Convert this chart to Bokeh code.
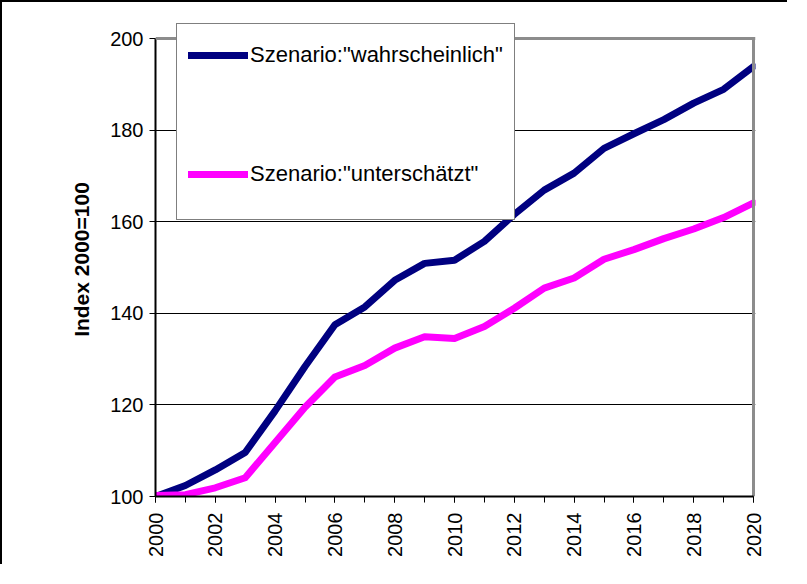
import math
from bokeh.plotting import figure
from bokeh.models import Range1d, FixedTicker, Legend, LegendItem, Span
from bokeh.embed import file_html
from bokeh.resources import INLINE

years = list(range(2000, 2021))
wahrscheinlich = [100.0, 102.4, 105.8, 109.6, 118.7, 128.4, 137.5, 141.4, 147.2, 150.9, 151.6,
                  155.7, 161.6, 166.9, 170.6, 176.0, 179.2, 182.3, 185.9, 188.9, 193.9]
unterschaetzt = [100.2, 100.4, 101.9, 104.1, 111.8, 119.5, 126.1, 128.6, 132.4, 134.9, 134.5,
                 137.1, 141.1, 145.5, 147.7, 151.8, 153.9, 156.3, 158.4, 160.9, 164.1]
series_labels = ['Szenario:"wahrscheinlich"', 'Szenario:"unterschätzt"']
y_ticks = [100, 120, 140, 160, 180, 200]
x_label_ticks = list(range(2000, 2021, 2))

FONT = "Liberation Sans"
X0, X1 = years[0], years[-1]
Y0, Y1 = y_ticks[0], y_ticks[-1]

# layout (pixels)
PLOT_W, PLOT_H = 598, 458      # area between 2000..2020 and 100..200
TOP_EXTRA, RIGHT_EXTRA = 16, 2  # frame room above 200 / right of 2020 (legend overflow, border)
px_x = (X1 - X0) / PLOT_W
px_y = (Y1 - Y0) / PLOT_H

p = figure(output_backend="svg", toolbar_location=None,
           frame_width=PLOT_W + RIGHT_EXTRA, frame_height=PLOT_H + TOP_EXTRA,
           min_border_left=153, min_border_top=20, min_border_right=32, min_border_bottom=68,
           x_range=Range1d(X0, X1 + RIGHT_EXTRA * px_x),
           y_range=Range1d(Y0, Y1 + TOP_EXTRA * px_y),
           background_fill_color="white", border_fill_color="white")
p.styles = {"border-left": "2px solid black", "border-top": "2px solid black"}
p.outline_line_color = None

# grid
p.xgrid.visible = False
p.ygrid.ticker = FixedTicker(ticks=[120, 140, 160, 180])
p.ygrid.grid_line_color = "black"
p.ygrid.grid_line_width = 1

# axes
xa = p.xaxis[0]
xa.bounds = (X0, X1)
xa.ticker = FixedTicker(ticks=x_label_ticks, minor_ticks=years)
xa.axis_line_color = "black"
xa.axis_line_width = 2
xa.major_tick_out = 6
xa.major_tick_in = 0
xa.minor_tick_out = 6
xa.minor_tick_in = 0
xa.major_tick_line_color = "black"
xa.minor_tick_line_color = "black"
xa.major_label_orientation = math.pi / 2
xa.major_label_text_font = FONT
xa.major_label_text_font_size = "20px"
xa.major_label_text_color = "black"
xa.major_label_standoff = 10

ya = p.yaxis[0]
ya.bounds = (Y0, Y1)
ya.ticker = FixedTicker(ticks=y_ticks, minor_ticks=[])
ya.axis_line_color = "black"
ya.axis_line_width = 2
ya.major_tick_out = 6
ya.major_tick_in = 0
ya.major_tick_line_color = "black"
ya.major_label_text_font = FONT
ya.major_label_text_font_size = "20px"
ya.major_label_text_color = "black"
ya.major_label_standoff = 6
ya.axis_label = "Index 2000=100"
ya.axis_label_text_font = FONT
ya.axis_label_text_font_style = "bold"
ya.axis_label_text_font_size = "21px"
ya.axis_label_text_color = "black"
ya.axis_label_standoff = 14

r1 = p.line(years, wahrscheinlich, line_color="#000080", line_width=7,
            line_join="round", line_cap="round")
r2 = p.line(years, unterschaetzt, line_color="#ff00ff", line_width=7,
            line_join="round", line_cap="round")

# gray top/right plot border (drawn over the lines)
p.add_layout(Span(location=Y1, dimension="width", line_color="#8c8c8c", line_width=3))
p.segment(x0=[X1], y0=[Y0], x1=[X1], y1=[Y1], line_color="#8c8c8c", line_width=3)

legend = Legend(items=[LegendItem(label=series_labels[0], renderers=[r1]),
                       LegendItem(label=series_labels[1], renderers=[r2])],
                location=(21, 276))
legend.glyph_width = 60
legend.glyph_height = 40
legend.label_height = 40
legend.label_standoff = 2
legend.spacing = 79
legend.padding = 11
legend.margin = 0
legend.label_text_font = FONT
legend.label_text_font_size = "22px"
legend.label_text_color = "black"
legend.border_line_color = "black"
legend.border_line_width = 1.5
legend.background_fill_color = "white"
legend.background_fill_alpha = 1
if "title_location" in Legend.properties():
    legend.title = " "
    legend.title_location = "below"
    legend.title_text_font_size = "10px"
    legend.title_standoff = 3
p.add_layout(legend, "center")

open("out.html", "w").write(file_html(p, INLINE))
